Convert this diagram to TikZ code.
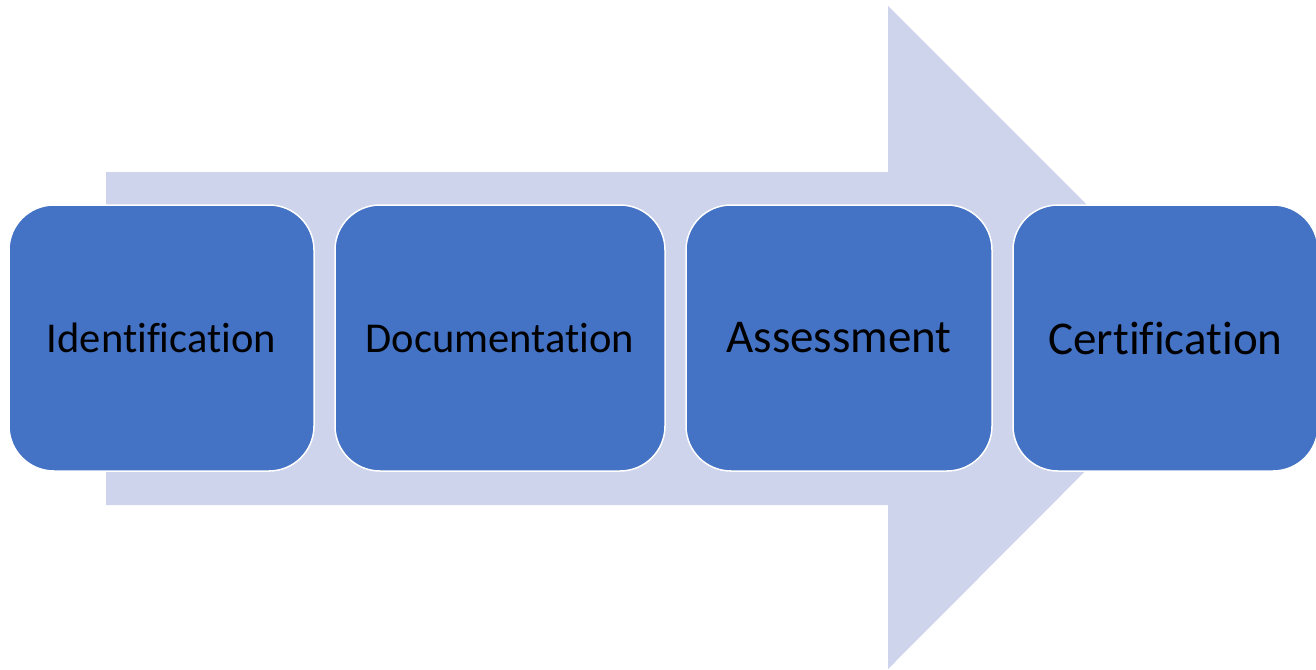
\documentclass[tikz,border=0pt]{standalone}
\usepackage{fontspec}
\setmainfont[Ligatures=NoCommon]{Carlito}
\usepackage{xcolor}
\usepackage{tikz}
\definecolor{stageblue}{HTML}{4472C4}
\definecolor{arrowlav}{HTML}{CDD4EC}

\begin{document}
\begin{tikzpicture}[
  x=1pt, y=-1pt,
  stage/.style={rectangle, rounded corners=45pt, draw=white, line width=1.5pt,
    fill=stageblue, minimum height=266pt, inner sep=0pt, text=black},
  small/.style={font=\fontsize{42.5}{50}\selectfont},
  big/.style={font=\fontsize{47}{55}\selectfont}
]
\useasboundingbox (0,0) rectangle (1316,669);
% background arrow
\fill[arrowlav] (106,172) -- (888,172) -- (888,6) -- (1219,337)
  -- (888,669) -- (888,505) -- (106,505) -- cycle;
% stages
\node[stage, small, minimum width=305pt] (ident) at (161.5,338) {Identification};
\node[stage, small, minimum width=330pt] (docu) at (500,338) {Documentation};
\node[stage, big, minimum width=306pt] (assess) at (839,338) {Assessment};
\node[stage, big, minimum width=305pt] (cert) at (1165.5,338) {Certification};
\end{tikzpicture}
\end{document}
